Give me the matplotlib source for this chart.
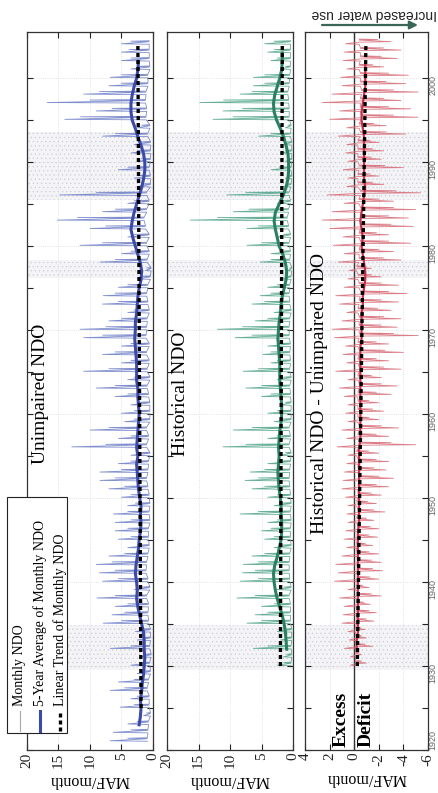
import numpy as np
import matplotlib.pyplot as plt
from matplotlib.patches import Rectangle
from matplotlib.lines import Line2D

plt.rcParams['font.family'] = ['Liberation Serif', 'DejaVu Serif']
plt.rcParams['axes.unicode_minus'] = False
plt.rcParams['hatch.linewidth'] = 0.4

# -----------------------------
# Data (water years, MAF/month)
# -----------------------------
unimp_years = np.arange(1921, 2005)
unimp_peak = [6.8, 6.3, 4.0, 1.5, 5.2, 3.5, 6.8, 5.5, 2.5, 3.5,
              2.0, 6.8, 2.5, 2.8, 7.9, 6.5, 6.0, 8.9, 3.0, 8.0,
              8.5, 9.0, 7.0, 4.0, 5.5, 6.0, 6.0, 6.3, 4.0, 5.0,
              7.0, 8.4, 8.4, 5.5, 3.5, 12.9, 5.5, 10.0, 4.5, 5.0,
              3.5, 6.0, 9.0, 4.0, 11.0, 5.0, 8.0, 5.0, 11.0, 11.6,
              7.0, 4.0, 8.0, 7.9, 5.5, 2.5, 1.2, 8.4, 5.0, 11.6,
              4.0, 10.0, 15.2, 8.0, 4.0, 14.8, 2.5, 3.0, 5.5, 2.5,
              3.5, 3.0, 8.0, 2.5, 14.0, 9.0, 16.8, 11.0, 7.0, 6.8,
              3.5, 5.0, 5.0, 5.0]
unimp_second = [4.0, 3.5, 2.5, 1.0, 3.0, 2.5, 4.5, 3.0, 1.5, 2.0,
                1.2, 3.5, 1.5, 1.8, 5.0, 4.5, 4.0, 6.0, 2.0, 5.5,
                6.0, 6.5, 4.5, 2.5, 3.5, 4.0, 3.5, 4.0, 2.8, 3.5,
                4.5, 6.0, 5.0, 3.5, 2.5, 7.5, 3.5, 7.0, 3.0, 3.0,
                2.5, 4.0, 6.0, 3.0, 7.0, 3.5, 6.0, 3.5, 8.0, 7.5,
                5.0, 3.0, 5.5, 6.0, 4.0, 1.8, 1.0, 6.0, 3.5, 8.0,
                3.0, 7.5, 12.0, 6.0, 3.0, 9.0, 1.8, 2.2, 4.0, 1.8,
                2.5, 2.2, 6.0, 1.8, 11.5, 6.5, 10.0, 8.5, 5.0, 5.0,
                2.5, 3.5, 3.8, 3.5]
unimp_low = [0.9, 0.8, 0.7, 0.4, 0.6, 0.6, 0.9, 0.7, 0.4, 0.5,
             0.3, 0.5, 0.4, 0.4, 0.7, 0.8, 0.7, 1.0, 0.5, 0.8,
             1.1, 1.0, 0.8, 0.6, 0.7, 0.7, 0.5, 0.6, 0.5, 0.6,
             0.8, 1.0, 0.8, 0.7, 0.5, 1.0, 0.7, 1.0, 0.5, 0.5,
             0.5, 0.7, 0.9, 0.5, 0.9, 0.6, 1.0, 0.6, 1.1, 1.0,
             0.9, 0.6, 0.8, 1.0, 0.8, 0.4, 0.3, 0.9, 0.6, 1.0,
             0.6, 1.2, 1.4, 1.0, 0.6, 1.0, 0.4, 0.4, 0.6, 0.4,
             0.4, 0.4, 0.8, 0.5, 1.1, 1.0, 1.2, 1.1, 0.8, 0.8,
             0.5, 0.6, 0.6, 0.6]
unimp_avg_years = np.arange(1923, 2003)
unimp_avg = [2.2, 2.0, 1.9, 2.0, 1.8, 1.7, 1.5, 1.4, 1.3, 1.4,
             1.4, 1.5, 1.8, 2.1, 2.4, 2.6, 2.5, 2.6, 2.8, 2.7,
             2.5, 2.3, 2.2, 2.0, 1.9, 2.0, 1.9, 2.1, 2.3, 2.4,
             2.5, 2.6, 2.4, 2.6, 2.5, 2.4, 2.3, 2.2, 2.3, 2.4,
             2.4, 2.6, 2.6, 2.6, 2.7, 2.8, 2.9, 2.8, 2.8, 2.6,
             2.5, 2.4, 2.2, 1.9, 1.8, 2.0, 2.4, 2.8, 3.2, 3.5,
             3.3, 3.0, 2.6, 2.2, 1.8, 1.5, 1.3, 1.3, 1.5, 1.9,
             2.4, 2.8, 3.3, 3.5, 3.5, 3.3, 3.0, 2.6, 2.4, 2.3]
unimp_trend_years = [1925, 2004]
unimp_trend = [1.9, 2.4]

hist_years = np.arange(1930, 2005)
hist_peak = [2.5, 1.5, 6.3, 2.0, 2.5, 7.3, 6.0, 5.0, 8.9, 2.5,
             8.4, 8.0, 7.9, 6.5, 3.0, 4.5, 5.0, 4.0, 8.4, 3.0,
             4.0, 6.5, 7.6, 6.8, 4.0, 2.0, 11.1, 4.0, 9.5, 3.0,
             4.0, 2.0, 5.0, 7.5, 2.5, 7.9, 3.5, 4.8, 4.0, 9.2,
             12.0, 6.0, 3.0, 6.5, 5.2, 4.0, 1.5, 0.8, 5.2, 3.5,
             7.3, 2.5, 7.3, 16.3, 9.5, 2.5, 10.5, 1.5, 1.2, 3.5,
             1.2, 2.0, 1.5, 5.5, 1.2, 12.7, 11.1, 14.8, 8.4, 6.3,
             6.3, 2.0, 3.5, 4.0, 4.5]
hist_second = [1.5, 1.0, 4.0, 1.2, 1.5, 5.0, 4.0, 3.0, 6.0, 1.5,
               5.5, 6.0, 5.5, 4.5, 2.0, 3.0, 3.5, 2.5, 5.5, 2.0,
               2.5, 4.5, 5.5, 4.5, 2.5, 1.2, 7.5, 2.5, 6.5, 2.0,
               2.5, 1.2, 3.5, 5.0, 1.5, 5.5, 2.5, 3.5, 2.5, 6.5,
               8.0, 4.0, 2.0, 4.5, 3.5, 2.5, 1.0, 0.5, 3.5, 2.2,
               5.0, 1.5, 5.5, 12.0, 7.0, 1.5, 7.5, 1.0, 0.8, 2.2,
               0.8, 1.2, 1.0, 3.5, 0.8, 9.5, 8.0, 11.0, 6.5, 4.5,
               4.5, 1.2, 2.5, 3.0, 3.0]
hist_low = [0.3, 0.2, 0.3, 0.2, 0.2, 0.4, 0.4, 0.4, 0.6, 0.3,
            0.5, 0.6, 0.6, 0.5, 0.3, 0.4, 0.4, 0.3, 0.4, 0.3,
            0.4, 0.5, 0.6, 0.5, 0.4, 0.3, 0.6, 0.4, 0.6, 0.3,
            0.3, 0.3, 0.4, 0.5, 0.3, 0.5, 0.4, 0.5, 0.4, 0.6,
            0.6, 0.5, 0.3, 0.5, 0.6, 0.5, 0.3, 0.2, 0.5, 0.4,
            0.6, 0.4, 0.7, 0.9, 0.7, 0.4, 0.6, 0.3, 0.2, 0.3,
            0.2, 0.2, 0.2, 0.4, 0.3, 0.6, 0.6, 0.7, 0.8, 0.6,
            0.5, 0.4, 0.4, 0.4, 0.4]
hist_avg_years = np.arange(1932, 2004)
hist_avg = [1.0, 1.1, 1.2, 1.4, 1.7, 2.1, 2.5, 2.8, 3.0, 3.1,
            2.9, 2.5, 2.2, 1.9, 1.8, 1.8, 1.9, 1.9, 2.0, 2.2,
            2.3, 2.4, 2.3, 2.2, 2.3, 2.2, 2.1, 1.9, 1.8, 1.8,
            1.9, 2.0, 2.1, 2.1, 2.1, 2.2, 2.3, 2.4, 2.3, 2.2,
            2.0, 1.9, 1.7, 1.4, 1.1, 1.0, 1.2, 1.6, 2.2, 2.5,
            2.8, 3.0, 2.8, 2.2, 1.6, 1.1, 0.8, 0.7, 0.7, 0.8,
            1.1, 1.5, 2.0, 2.6, 3.0, 3.1, 2.9, 2.5, 2.1, 1.8,
            1.7, 1.7]
hist_trend_years = [1930, 2004]
hist_trend = [2.0, 1.7]

diff_years = np.arange(1930, 2005)
diff_max = [0.3, 0.3, 0.8, 0.4, 0.5, 1.0, 0.9, 0.8, 1.2, 0.5,
            1.6, 1.3, 1.5, 1.0, 0.6, 0.8, 0.7, 0.5, 0.6, 0.5,
            0.7, 1.0, 0.9, 0.8, 0.6, 0.5, 1.4, 0.6, 1.0, 0.5,
            0.7, 0.5, 0.8, 1.2, 0.5, 1.5, 0.6, 0.9, 0.7, 1.6,
            1.8, 1.0, 0.6, 1.2, 1.5, 0.8, 0.5, 0.4, 1.3, 0.8,
            1.7, 0.9, 2.0, 2.6, 1.8, 0.8, 2.2, 0.6, 0.5, 0.9,
            0.5, 0.7, 0.6, 1.3, 0.6, 2.0, 1.2, 2.6, 1.8, 1.0,
            1.1, 0.6, 0.9, 0.8, 0.7]
diff_min = [-1.0, -0.6, -1.5, -1.0, -0.9, -1.6, -1.8, -1.3, -2.2, -1.2,
            -2.0, -2.3, -2.2, -2.0, -1.5, -1.9, -2.0, -1.6, -2.5, -1.8,
            -2.2, -2.8, -3.2, -2.6, -2.8, -2.0, -5.0, -2.8, -3.6, -2.0,
            -2.4, -2.0, -3.0, -3.5, -2.2, -3.8, -2.8, -4.0, -2.8, -5.2,
            -3.5, -3.8, -3.0, -3.6, -4.3, -3.6, -2.2, -1.4, -3.8, -3.2,
            -4.6, -2.8, -4.8, -4.4, -5.0, -3.2, -5.4, -2.4, -2.0, -4.0,
            -2.2, -2.4, -2.0, -4.2, -2.6, -5.2, -4.6, -3.8, -5.2, -4.2,
            -4.4, -2.4, -3.5, -3.8, -3.0]
diff_min2 = [-0.6, -0.4, -0.9, -0.6, -0.5, -1.0, -1.2, -0.8, -1.4, -0.7,
             -1.3, -1.5, -1.4, -1.2, -0.9, -1.2, -1.3, -1.0, -1.6, -1.1,
             -1.4, -1.8, -2.0, -1.6, -1.8, -1.2, -3.0, -1.8, -2.2, -1.2,
             -1.5, -1.2, -1.8, -2.2, -1.4, -2.4, -1.8, -2.5, -1.8, -3.2,
             -2.2, -2.4, -1.9, -2.2, -2.8, -2.2, -1.4, -0.9, -2.4, -2.0,
             -2.8, -1.8, -3.0, -2.8, -3.2, -2.0, -3.4, -1.5, -1.3, -2.5,
             -1.4, -1.5, -1.3, -2.6, -1.6, -3.2, -2.8, -2.4, -3.2, -2.6,
             -2.8, -1.5, -2.2, -2.4, -1.9]
diff_low = [-0.1, -0.1, -0.2, -0.1, -0.1, -0.2, -0.2, -0.2, -0.3, -0.2,
            -0.3, -0.3, -0.3, -0.2, -0.2, -0.3, -0.3, -0.2, -0.3, -0.2,
            -0.3, -0.3, -0.4, -0.3, -0.3, -0.2, -0.4, -0.3, -0.4, -0.3,
            -0.3, -0.3, -0.3, -0.4, -0.3, -0.4, -0.3, -0.4, -0.3, -0.4,
            -0.4, -0.4, -0.3, -0.4, -0.5, -0.4, -0.3, -0.2, -0.4, -0.4,
            -0.5, -0.4, -0.5, -0.5, -0.5, -0.4, -0.5, -0.3, -0.3, -0.4,
            -0.3, -0.3, -0.3, -0.5, -0.4, -0.6, -0.5, -0.5, -0.6, -0.5,
            -0.5, -0.4, -0.5, -0.5, -0.4]
diff_avg_years = np.arange(1932, 2003)
diff_avg = [-0.2, -0.2, -0.3, -0.3, -0.3, -0.3, -0.3, -0.3, -0.3, -0.3,
            -0.3, -0.3, -0.3, -0.3, -0.3, -0.4, -0.4, -0.4, -0.4, -0.4,
            -0.4, -0.4, -0.4, -0.4, -0.4, -0.5, -0.5, -0.5, -0.5, -0.5,
            -0.5, -0.5, -0.5, -0.5, -0.5, -0.5, -0.5, -0.6, -0.6, -0.6,
            -0.6, -0.7, -0.7, -0.8, -0.9, -0.9, -0.8, -0.7, -0.6, -0.7,
            -0.6, -0.5, -0.6, -0.7, -0.8, -0.9, -0.8, -0.8, -0.8, -0.8,
            -0.8, -0.8, -0.7, -0.6, -0.6, -0.7, -0.8, -0.9, -0.9, -0.9,
            -0.9]
diff_trend_years = [1930, 2004]
diff_trend = [-0.25, -0.95]

drought_periods = [(1929.5, 1934.9), (1976.2, 1978.3), (1985.5, 1993.6)]


def spikes(years, base, peak_lists, offsets, half=0.06):
    # narrow monthly spikes rising from each year's base flow
    t_cols, v_cols = [], []
    for off, vals in zip(offsets, peak_lists):
        t_cols += [years + off - half, years + off]
        v_cols += [base, vals]
    t_cols.append(years + offsets[-1] + half)
    v_cols.append(base)
    return np.column_stack(t_cols).ravel(), np.column_stack(v_cols).ravel()


# -----------------------------
# Figure (rotated layout: years run upward)
# -----------------------------
W, H = 438, 793
fig = plt.figure(figsize=(W / 100, H / 100), dpi=100)


def px_axes(x0, x1, y0, y1):
    return fig.add_axes([x0 / W, 1 - y1 / H, (x1 - x0) / W, (y1 - y0) / H])


ax1 = px_axes(27, 153, 32, 750)
ax2 = px_axes(167, 293, 32, 750)
ax3 = px_axes(305, 428, 32, 750)

dash = (0, (1.2, 0.9))

for ax, xlim, xticks in [(ax1, (20, 0), [0, 5, 10, 15, 20]),
                         (ax2, (20, 0), [0, 5, 10, 15, 20]),
                         (ax3, (4, -6), [-6, -4, -2, 0, 2, 4])]:
    ax.set_xlim(*xlim)
    ax.set_ylim(1920, 2005.5)
    ax.set_xticks(xticks)
    ax.set_yticks(np.arange(1920, 2001, 10))
    ax.set_yticks(np.arange(1925, 2005, 10), minor=True)
    ax.tick_params(which='both', direction='in', length=4, width=0.8,
                   top=True, bottom=True, left=True, right=True,
                   labelleft=False, labelright=False, colors='#222')
    ax.tick_params(axis='x', labelrotation=90, labelsize=11, pad=2)
    ax.grid(True, ls=':', color='#dadada', lw=0.6)
    ax.set_axisbelow(True)
    for s in ax.spines.values():
        s.set_color('#333')
        s.set_linewidth(0.9)
    for y0, y1 in drought_periods:
        ax.axhspan(y0, y1, facecolor='#f4f4f7', edgecolor='#cdcdda',
                   hatch='....', lw=0, zorder=0)
    ax.set_xlabel('MAF/month', rotation=180, fontsize=11.5, labelpad=3)

# panel 1: unimpaired
t, v = spikes(unimp_years, np.array(unimp_low),
              [np.array(unimp_peak), np.array(unimp_second)], [0.1, 0.4])
ax1.plot(v, t, color='#7282c8', lw=0.6, alpha=0.9)
ax1.plot(unimp_avg, unimp_avg_years, color='#3b4aa6', lw=2.2)
ax1.plot(unimp_trend, unimp_trend_years, color='black', lw=2.4, ls=dash)

# panel 2: historical
t, v = spikes(hist_years, np.array(hist_low),
              [np.array(hist_peak), np.array(hist_second)], [0.1, 0.4])
ax2.plot(v, t, color='#56a68c', lw=0.6, alpha=0.9)
ax2.plot(hist_avg, hist_avg_years, color='#2a8060', lw=2.2)
ax2.plot(hist_trend, hist_trend_years, color='black', lw=2.4, ls=dash)

# panel 3: difference
ax3.axvline(0, color='#333', lw=1.0, zorder=1)
t, v = spikes(diff_years, np.array(diff_low),
              [np.array(diff_max), np.array(diff_min), np.array(diff_min2)],
              [0.1, 0.35, 0.6])
ax3.plot(v, t, color='#d8707c', lw=0.6, alpha=0.9)
ax3.plot(diff_avg, diff_avg_years, color='#c8304c', lw=1.6)
ax3.plot(diff_trend, diff_trend_years, color='black', lw=2.4, ls=dash)
ax3.tick_params(axis='y', labelright=True, labelrotation=90, labelsize=6.5,
                labelcolor='#666', pad=0.5)
year_labels = ax3.get_yticklabels()
for lab in year_labels:
    lab.set_family(['Liberation Sans', 'DejaVu Sans'])
# keep the corner label clear of the "-6" value label
year_labels[0].set_va('bottom')

# panel titles
ax1.text(17.9, 1962.4, 'Unimpaired NDO', rotation=90, ha='center',
         va='center', fontsize=14)
ax2.text(17.9, 1962.4, 'Historical NDO', rotation=90, ha='center',
         va='center', fontsize=14)
ax3.text(2.8, 1962.4, 'Historical NDO - Unimpaired NDO', rotation=90,
         ha='center', va='center', fontsize=14)
ax3.text(0.35, 1920.4, 'Excess', rotation=90, ha='right', va='bottom',
         fontsize=14, fontweight='bold')
ax3.text(-0.3, 1920.4, 'Deficit', rotation=90, ha='left', va='bottom',
         fontsize=14, fontweight='bold')

# legend, drawn by hand so it reads in the rotated frame
fig.add_artist(Rectangle((7 / W, 1 - 733 / H), 60 / W, 236 / H,
                         transform=fig.transFigure, facecolor='white',
                         edgecolor='#222', lw=0.8, zorder=5))
legend_items = [
    ('Monthly NDO', '#a8a8a8', 0.8, '-'),
    ('5-Year Average of Monthly NDO', '#3b4aa6', 2.2, '-'),
    ('Linear Trend of Monthly NDO', 'black', 2.4, dash),
]
for i, (label, c, lw, ls) in enumerate(legend_items):
    xc = (20 + 20 * i) / W
    fig.add_artist(Line2D([xc, xc], [1 - 731 / H, 1 - 711 / H],
                          transform=fig.transFigure, color=c, lw=lw,
                          ls=ls, zorder=6))
    fig.text(xc, 1 - 706 / H, label, rotation=90, ha='center', va='bottom',
             fontsize=10, zorder=6)

# increased water use note
fig.text(374 / W, 1 - 14 / H, 'Increased water use', rotation=180,
         ha='center', va='center', fontsize=10,
         family=['Liberation Sans', 'DejaVu Sans'], color='#222')
fig.add_artist(plt.Annotation('', xy=(418 / W, 1 - 25 / H),
                              xytext=(322 / W, 1 - 25 / H),
                              xycoords='figure fraction',
                              arrowprops=dict(arrowstyle='-|>',
                                              color='#3a6656', lw=1.6,
                                              shrinkA=0, shrinkB=0,
                                              mutation_scale=12)))

fig.savefig('out.png', dpi=100)
